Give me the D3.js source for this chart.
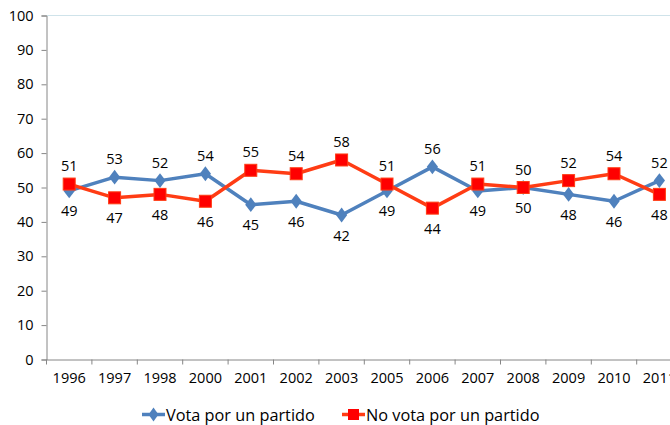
<!DOCTYPE html>
<html><head><meta charset="utf-8">
<script src="https://cdn.jsdelivr.net/npm/d3@7"></script>
<style>body{margin:0;background:#fff}svg{display:block}text{font-family:"Open Sans",sans-serif;fill:#000}</style>
</head><body><svg id="c" width="670" height="425"></svg>
<script>
const years = ["1996","1997","1998","2000","2001","2002","2003","2005","2006","2007","2008","2009","2010","2011"];
const vota = [49,53,52,54,45,46,42,49,56,49,50,48,46,52];
const noVota = [51,47,48,46,55,54,58,51,44,51,50,52,54,48];
const yTicks = [0,10,20,30,40,50,60,70,80,90,100];
const seriesNames = ["Vota por un partido","No vota por un partido"];

const svg = d3.select("#c");
const x = d3.scaleBand().domain(years).range([46.5, 46.5 + 14*45.4]);
const y = d3.scaleLinear().domain([0,100]).range([359.5, 15.5]);

// top border line
svg.append("line").attr("x1",46.5).attr("x2",670).attr("y1",y(100)).attr("y2",y(100))
  .attr("stroke","#cfe3ea").attr("stroke-width",1.2);

// y axis
const ya = svg.append("g").attr("transform","translate(46.5,0)")
  .call(d3.axisLeft(y).tickValues(yTicks).tickSize(5).tickPadding(8));
ya.select(".domain").attr("stroke","#868686");
ya.selectAll(".tick line").attr("stroke","#868686");
ya.selectAll("text").style("font-size","14.5px");

// x axis
const xa = svg.append("g").attr("transform",`translate(0,${y(0)})`)
  .call(d3.axisBottom(x).tickSize(0).tickPadding(13));
xa.select(".domain").attr("stroke","#868686");
xa.selectAll("text").style("font-size","14.5px");
// ticks between categories
const bounds = years.map(d=>x(d)).concat([x(years[years.length-1])+x.bandwidth()]);
xa.selectAll(".sep").data(bounds).join("line").attr("class","sep")
  .attr("x1",d=>d).attr("x2",d=>d).attr("y1",0).attr("y2",5).attr("stroke","#868686");

const cx = d => x(d) + x.bandwidth()/2;
const line = d3.line().x((d,i)=>cx(years[i])).y(d=>y(d));

const blue = "#4f81bd", redLine = "#ff3c14", redMark = "#ff0000";

svg.append("path").datum(vota).attr("d",line).attr("fill","none").attr("stroke",blue).attr("stroke-width",3.5).attr("stroke-linejoin","round");
svg.append("path").datum(noVota).attr("d",line).attr("fill","none").attr("stroke",redLine).attr("stroke-width",3.5).attr("stroke-linejoin","round");

const diamond = d3.symbol().type(d3.symbolDiamond).size(70);
svg.selectAll(".bm").data(vota).join("path").attr("class","bm")
  .attr("d",diamond).attr("transform",(d,i)=>`translate(${cx(years[i])},${y(d)}) scale(1.25,0.95)`).attr("fill",blue);
svg.selectAll(".rm").data(noVota).join("rect").attr("class","rm")
  .attr("x",(d,i)=>cx(years[i])-6).attr("y",d=>y(d)-6).attr("width",12).attr("height",12)
  .attr("fill",redMark).attr("stroke",redLine).attr("stroke-width",1);

// labels
function labels(vals, other, isRed){
  svg.selectAll(null).data(vals).join("text")
    .attr("x",(d,i)=>cx(years[i]))
    .attr("y",(d,i)=>{
      const above = isRed ? d >= other[i] : d > other[i];
      return above ? y(d)-13 : y(d)+25.5;
    })
    .attr("text-anchor","middle").style("font-size","14.5px").text(d=>d);
}
labels(vota, noVota, false);
labels(noVota, vota, true);

// legend
const lg = svg.append("g");
lg.append("line").attr("x1",142).attr("x2",165).attr("y1",414.5).attr("y2",414.5).attr("stroke",blue).attr("stroke-width",3.5);
lg.append("path").attr("d",diamond).attr("transform","translate(153.5,414.5) scale(1.1,0.9)").attr("fill",blue);
lg.append("text").attr("x",166).attr("y",420.5).style("font-size","16.3px").text(seriesNames[0]);
lg.append("line").attr("x1",342).attr("x2",365).attr("y1",414.5).attr("y2",414.5).attr("stroke",redLine).attr("stroke-width",3.5);
lg.append("rect").attr("x",348).attr("y",409).attr("width",11).attr("height",11).attr("fill",redMark);
lg.append("text").attr("x",366).attr("y",420.5).style("font-size","16.3px").text(seriesNames[1]);
</script></body></html>
